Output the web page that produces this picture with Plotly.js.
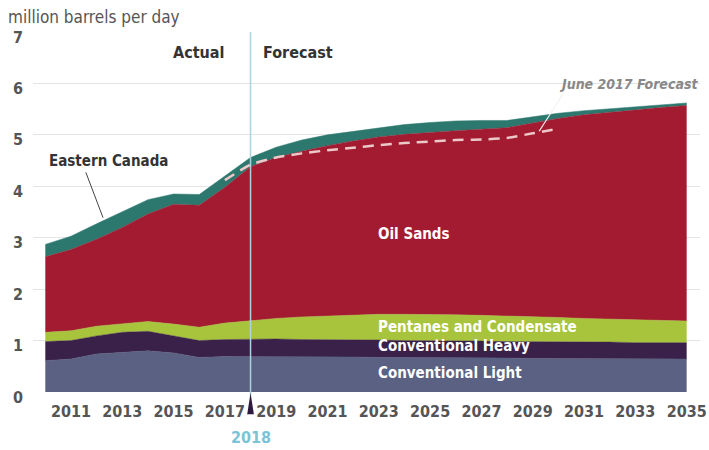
<!DOCTYPE html>
<html>
<head>
<meta charset="utf-8">
<script src="https://cdn.plot.ly/plotly-3.0.1.min.js"></script>
<style>html,body{margin:0;padding:0;background:#fff;}#chart{width:709px;height:450px;}</style>
</head>
<body>
<div id="chart"></div>
<script>
const years = [2010,2011,2012,2013,2014,2015,2016,2017,2018,2019,2020,2021,2022,2023,2024,2025,2026,2027,2028,2029,2030,2031,2032,2033,2034,2035];
const conventionalLight = [0.61,0.64,0.74,0.77,0.80,0.76,0.67,0.69,0.69,0.69,0.68,0.68,0.68,0.67,0.67,0.67,0.66,0.66,0.66,0.65,0.65,0.65,0.65,0.64,0.64,0.64];
const conventionalHeavy = [0.37,0.36,0.35,0.39,0.38,0.33,0.33,0.33,0.34,0.34,0.34,0.34,0.33,0.34,0.33,0.33,0.33,0.33,0.32,0.33,0.32,0.32,0.32,0.32,0.32,0.32];
const pentanesCondensate = [0.18,0.19,0.19,0.16,0.19,0.23,0.26,0.32,0.36,0.40,0.44,0.46,0.49,0.50,0.51,0.51,0.51,0.50,0.50,0.48,0.48,0.46,0.45,0.45,0.43,0.42];
const oilSands = [1.47,1.58,1.69,1.88,2.09,2.33,2.37,2.64,2.99,3.13,3.22,3.31,3.38,3.45,3.50,3.54,3.58,3.62,3.66,3.77,3.87,3.96,4.02,4.08,4.14,4.19];
const easternCanada = [0.24,0.26,0.30,0.30,0.28,0.20,0.21,0.22,0.18,0.20,0.22,0.21,0.19,0.18,0.19,0.19,0.19,0.17,0.14,0.12,0.10,0.08,0.07,0.06,0.06,0.05];
const june2017Years = [2017,2018,2019,2020,2021,2022,2023,2024,2025,2026,2027,2028,2029,2030];
const june2017Forecast = [4.12,4.42,4.56,4.64,4.70,4.75,4.80,4.84,4.87,4.90,4.91,4.94,5.03,5.12];
const tickYears = [2011,2013,2015,2017,2019,2021,2023,2025,2027,2029,2031,2033,2035];
const tickLabels = tickYears.map(String);

const FONT = '"Liberation Sans Narrow","DejaVu Sans Condensed","Arial Narrow",sans-serif';

function area(name, y, color) {
  return {x: years, y: y, name: name, type: 'scatter', mode: 'lines', stackgroup: 'one',
    line: {color: color, width: 0.5}, fillcolor: color, hoverinfo: 'skip'};
}
const traces = [
  area('Conventional Light', conventionalLight, '#5b6182'),
  area('Conventional Heavy', conventionalHeavy, '#3a2149'),
  area('Pentanes and Condensate', pentanesCondensate, '#a8c43c'),
  area('Oil Sands', oilSands, '#a31b31'),
  area('Eastern Canada', easternCanada, '#2c786e'),
  {x: june2017Years, y: june2017Forecast, type: 'scatter', mode: 'lines', name: 'June 2017 Forecast',
   line: {color: '#ecc8c8', width: 2.5, dash: '11px,7px', shape: 'spline', smoothing: 0.6}, hoverinfo: 'skip'}
];

const labelFont = (size, color, extra) => Object.assign({family: FONT, size: size, color: color, weight: 'bold'}, extra || {});

const layout = {
  width: 709, height: 450,
  margin: {l: 33, r: 9, t: 32, b: 58},
  paper_bgcolor: '#fff', plot_bgcolor: '#fff',
  showlegend: false,
  xaxis: {range: [2009.52, 2035.52], tickvals: tickYears, ticktext: tickLabels, showgrid: false, zeroline: false,
    showline: false, ticks: '', tickfont: labelFont(16, '#555'), ticklabelstandoff: 8, fixedrange: true},
  yaxis: {range: [0, 7], dtick: 1, showgrid: true, gridcolor: '#e4e4e4', gridwidth: 1, zeroline: false,
    showline: false, ticks: '', tickfont: labelFont(16, '#555'), ticklabelstandoff: 9, ticklabelshift: 5, fixedrange: true},
  shapes: [
    {type: 'line', xref: 'x', yref: 'paper', x0: 2018, x1: 2018, y0: -0.01, y1: 1, line: {color: '#a8d3df', width: 1.5}, layer: 'above'},
    {type: 'path', xref: 'x', yref: 'paper', path: 'M 2017.87,-0.062 L 2018,-0.002 L 2018.13,-0.062 Z', fillcolor: '#2e1a3f', line: {width: 0}},
    {type: 'line', xref: 'x', yref: 'y', x0: 2011.58, y0: 4.27, x1: 2012.25, y1: 3.39, line: {color: '#444', width: 1}},
    {type: 'line', xref: 'x', yref: 'y', x0: 2030.2, y0: 5.81, x1: 2029.25, y1: 5.07, line: {color: '#f2f2f2', width: 1.2}}
  ],
  annotations: [
    {xref: 'paper', yref: 'paper', x: -0.04, y: 1.042, xanchor: 'left', yanchor: 'middle', showarrow: false,
     text: 'million barrels per day', font: {family: FONT, size: 17, color: '#555'}},
    {xref: 'x', yref: 'y', x: 2017.06, y: 6.6, xanchor: 'right', yanchor: 'middle', showarrow: false,
     text: 'Actual', font: labelFont(16, '#333')},
    {xref: 'x', yref: 'y', x: 2018.4, y: 6.6, xanchor: 'left', yanchor: 'middle', showarrow: false,
     text: 'Forecast', font: labelFont(16, '#333')},
    {xref: 'x', yref: 'y', x: 2010.05, y: 4.5, xanchor: 'left', yanchor: 'middle', showarrow: false,
     text: 'Eastern Canada', font: labelFont(15, '#333')},
    {xref: 'paper', yref: 'y', x: 1, y: 5.99, xanchor: 'right', yanchor: 'middle', showarrow: false,
     text: '<i>June 2017 Forecast</i>', font: labelFont(14, '#888')},
    {xref: 'x', yref: 'y', x: 2022.9, y: 3.07, xanchor: 'left', yanchor: 'middle', showarrow: false,
     text: 'Oil Sands', font: labelFont(15, '#fff')},
    {xref: 'x', yref: 'y', x: 2022.9, y: 1.26, xanchor: 'left', yanchor: 'middle', showarrow: false,
     text: 'Pentanes and Condensate', font: labelFont(15, '#fff')},
    {xref: 'x', yref: 'y', x: 2022.9, y: 0.89, xanchor: 'left', yanchor: 'middle', showarrow: false,
     text: 'Conventional Heavy', font: labelFont(15, '#fff')},
    {xref: 'x', yref: 'y', x: 2022.9, y: 0.36, xanchor: 'left', yanchor: 'middle', showarrow: false,
     text: 'Conventional Light', font: labelFont(15, '#fff')},
    {xref: 'x', yref: 'paper', x: 2018, y: -0.125, xanchor: 'center', yanchor: 'middle', showarrow: false,
     text: '2018', font: labelFont(16, '#7cc3d8')}
  ]
};

Plotly.newPlot('chart', traces, layout, {displayModeBar: false, staticPlot: true});
</script>
</body>
</html>
